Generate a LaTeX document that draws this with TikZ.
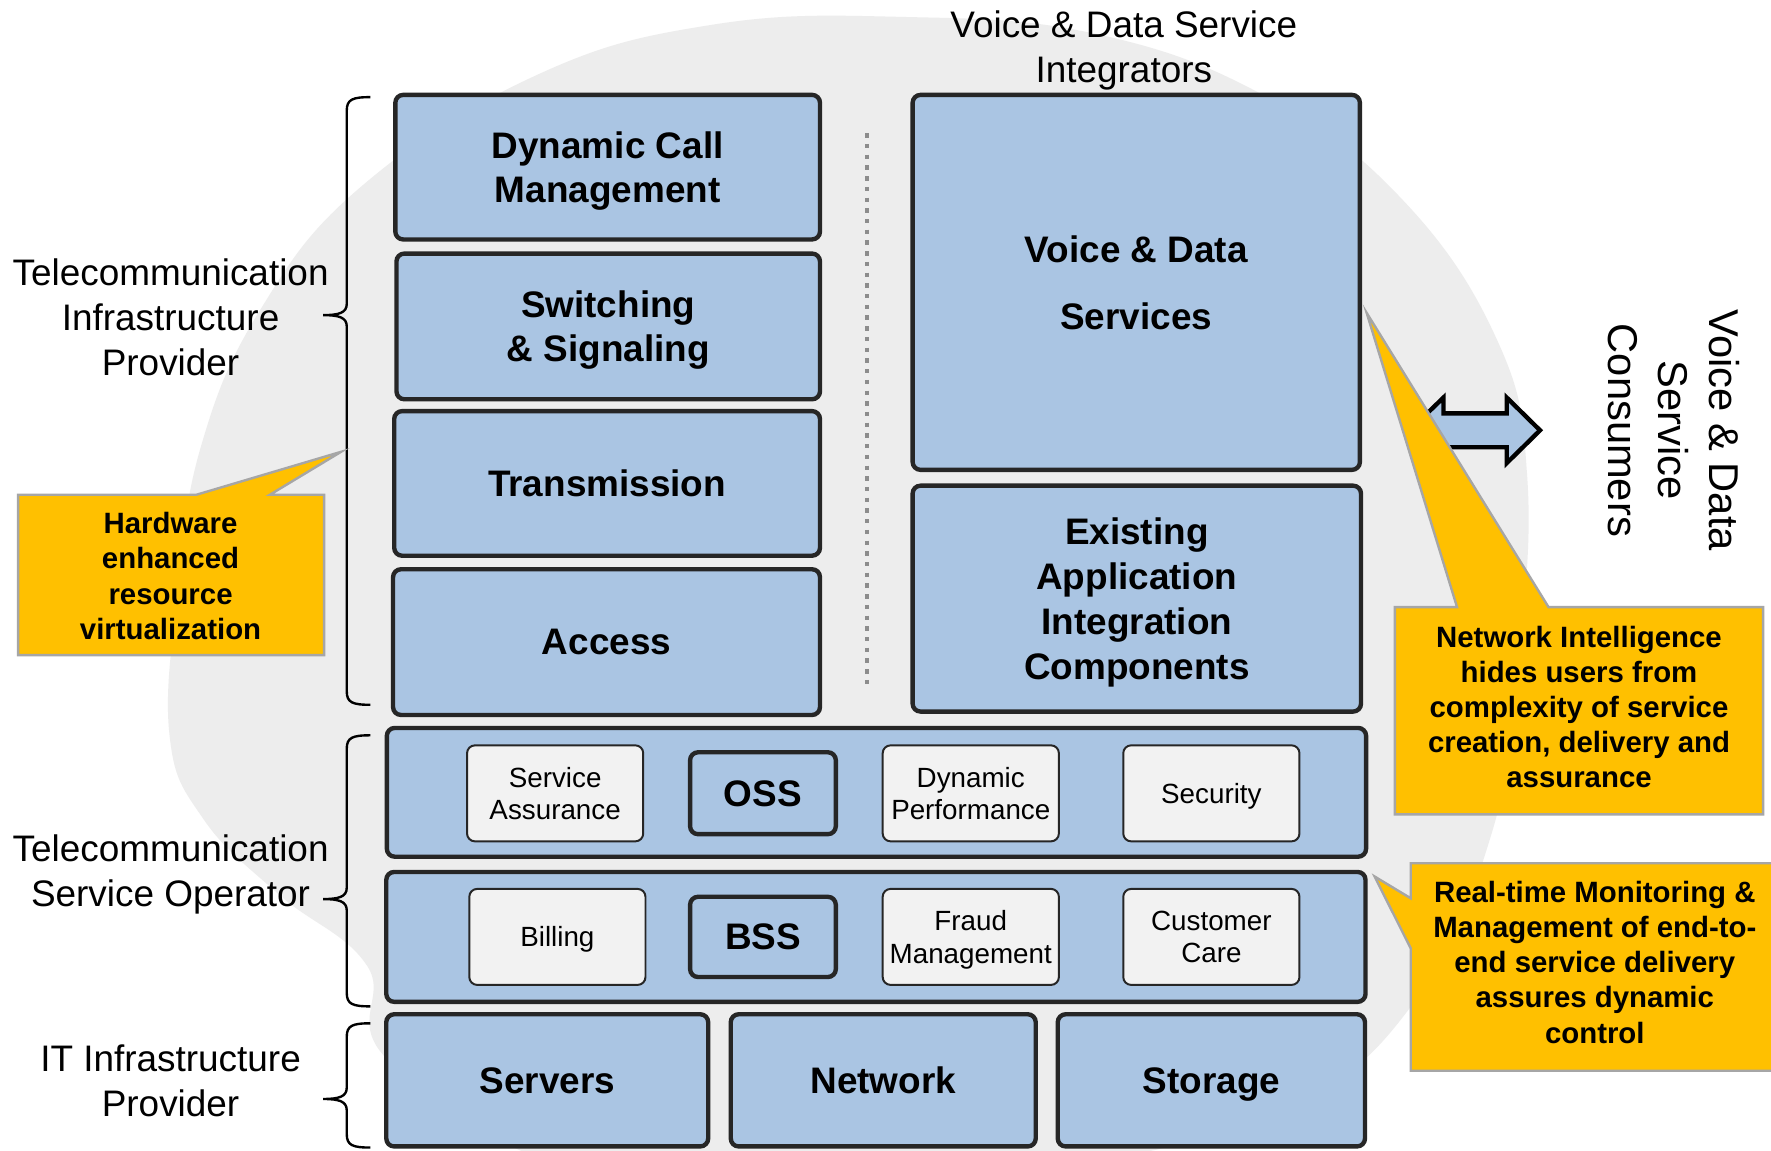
\documentclass[tikz,border=0pt]{standalone}
\usepackage{fontspec}
\setmainfont{Liberation Sans}
\definecolor{boxblue}{RGB}{170,197,227}
\definecolor{darkline}{RGB}{38,38,38}
\definecolor{funcgray}{RGB}{242,242,242}
\definecolor{bggray}{RGB}{237,237,237}
\definecolor{noteyellow}{RGB}{255,192,0}
\definecolor{notegray}{RGB}{166,166,166}
\definecolor{dotgray}{RGB}{140,140,140}

% brace: top, tip, bottom
\newcommand{\rolebrace}[3]{%
  \draw [bracel] (3.28,#1) .. controls (3.12,#1) and (3.07,{#1+0.02}) .. (3.07,{#1+0.12})
    -- (3.07,{#2-0.10}) .. controls (3.07,{#2-0.02}) and (3.00,#2) .. (2.86,#2)
    .. controls (3.00,#2) and (3.07,{#2+0.02}) .. (3.07,{#2+0.10})
    -- (3.07,{#3-0.12}) .. controls (3.07,{#3-0.02}) and (3.12,#3) .. (3.28,#3);}

\begin{document}
\begin{tikzpicture}
    [
      x=1cm, y=-1cm,
      layer/.style={draw=darkline, line width=1.1pt, fill=boxblue, rounded corners=0.07cm, align=center, inner sep=0pt, text depth=0pt, font=\bfseries\fontsize{9.3}{11}\selectfont},
      func/.style={draw=darkline, line width=0.5pt, fill=funcgray, rounded corners=0.07cm, align=center, inner sep=0pt, text depth=0pt, minimum width=1.56cm, minimum height=0.85cm, font=\fontsize{7}{8.2}\selectfont},
      role/.style={align=center, inner sep=0pt, font=\fontsize{9.3}{11.4}\selectfont},
      noteshape/.style={draw=notegray, line width=0.6pt, fill=noteyellow},
      notetext/.style={align=center, inner sep=0pt, font=\bfseries\fontsize{7.4}{8.85}\selectfont},
      bracel/.style={draw, line width=0.6pt}
    ]
    \fill [white] (0,0) rectangle (15.68,10.19);
    \useasboundingbox (0,0) rectangle (15.68,10.19);

    \fill [bggray] plot [smooth cycle, tension=0.7] coordinates {
      (1.50,6.50) (1.58,5.20) (1.78,3.95) (2.30,2.75) (3.20,1.65) (4.74,0.67)
      (6.30,0.22) (8.00,0.15) (9.70,0.30) (11.20,0.85) (12.40,1.75) (13.25,3.00)
      (13.52,4.20) (13.45,5.80) (13.20,7.40) (12.50,8.90) (11.40,9.80) (9.60,10.30)
      (7.50,10.50) (5.20,10.40) (3.45,9.40) (3.25,8.55) (2.47,7.92) (1.80,7.25)};

    \node (tip) [role] at (1.51,2.81) {Telecommunication\\Infrastructure\\Provider};
    \node (tso) [role] at (1.51,7.74) {Telecommunication\\Service Operator};
    \node (itp) [role] at (1.51,9.57) {IT Infrastructure\\Provider};
    \node (integrators) [role] at (9.95,0.45) {Voice \& Data Service\\Integrators};
    \node (consumers) [role, rotate=-90, font=\fontsize{10.5}{12.8}\selectfont] at (14.82,3.81) {Voice \& Data\\Service\\Consumers};

    \rolebrace{0.86}{2.79}{6.24}
    \rolebrace{6.51}{7.96}{8.91}
    \rolebrace{9.06}{9.73}{10.16}

    \node (dcm) [layer, minimum width=3.76cm, minimum height=1.28cm] at (5.38,1.48) {Dynamic Call\\Management};
    \node (switching) [layer, minimum width=3.75cm, minimum height=1.29cm] at (5.385,2.89) {Switching\\\& Signaling};
    \node (transmission) [layer, minimum width=3.77cm, minimum height=1.28cm] at (5.375,4.28) {Transmission};
    \node (access) [layer, minimum width=3.78cm, minimum height=1.29cm] at (5.37,5.685) {Access};

    \draw [dotgray, line width=0.9pt, dash pattern=on 1.1pt off 1.6pt] (7.675,1.18) -- (7.675,6.10);

    \node (vds) [layer, minimum width=3.96cm, minimum height=3.32cm, font=\bfseries\fontsize{9.3}{17}\selectfont] at (10.06,2.50) {Voice \& Data\\Services};
    \node (eaic) [layer, minimum width=3.97cm, minimum height=2.00cm, font=\bfseries\fontsize{9.3}{11.4}\selectfont] at (10.065,5.30) {Existing\\Application\\Integration\\Components};

    \node (oss-row) [layer, minimum width=8.67cm, minimum height=1.14cm] at (7.76,7.015) {};
    \node (bss-row) [layer, minimum width=8.67cm, minimum height=1.15cm] at (7.755,8.295) {};

    \node (svc-assur) [func] at (4.915,7.024) {Service\\Assurance};
    \node (oss) [layer, minimum width=1.29cm, minimum height=0.725cm] at (6.755,7.023) {OSS};
    \node (dyn-perf) [func] at (8.595,7.024) {Dynamic\\Performance};
    \node (security) [func] at (10.725,7.024) {Security};

    \node (billing) [func] at (4.935,8.295) {Billing};
    \node (bss) [layer, minimum width=1.29cm, minimum height=0.71cm] at (6.755,8.295) {BSS};
    \node (fraud) [func] at (8.595,8.295) {Fraud\\Management};
    \node (care) [func] at (10.725,8.295) {Customer\\Care};

    \node (servers) [layer, minimum width=2.85cm, minimum height=1.17cm] at (4.845,9.565) {Servers};
    \node (network) [layer, minimum width=2.70cm, minimum height=1.17cm] at (7.82,9.565) {Network};
    \node (storage) [layer, minimum width=2.72cm, minimum height=1.17cm] at (10.725,9.565) {Storage};

    \draw [draw=black, line width=1.1pt, fill=boxblue, line join=miter]
      (12.48,3.81) -- (12.78,3.52) -- (12.78,3.66) -- (13.34,3.66) -- (13.34,3.52) -- (13.635,3.81)
      -- (13.34,4.10) -- (13.34,3.96) -- (12.78,3.96) -- (12.78,4.10) -- cycle;

    \draw [noteshape] (0.16,4.38) -- (1.74,4.38) -- (3.02,4.00) -- (2.39,4.38) -- (2.87,4.38) -- (2.87,5.80) -- (0.16,5.80) -- cycle;
    \node (hw) [notetext] at (1.51,5.10) {Hardware\\enhanced\\resource\\virtualization};

    \draw [noteshape] (12.35,5.375) -- (12.90,5.375) -- (12.10,2.77) -- (13.71,5.375) -- (15.61,5.375) -- (15.61,7.21) -- (12.35,7.21) -- cycle;
    \node (ni) [notetext] at (13.98,6.26) {Network Intelligence\\hides users from\\complexity of service\\creation, delivery and\\assurance};

    \draw [noteshape] (12.49,7.643) -- (15.75,7.643) -- (15.75,9.48) -- (12.49,9.48) -- (12.49,8.396) -- (12.17,7.76) -- (12.49,7.953) -- cycle;
    \node (rt) [notetext] at (14.12,8.52) {Real-time Monitoring \&\\Management of end-to-\\end service delivery\\assures dynamic\\control};
  \end{tikzpicture}
\end{document}
